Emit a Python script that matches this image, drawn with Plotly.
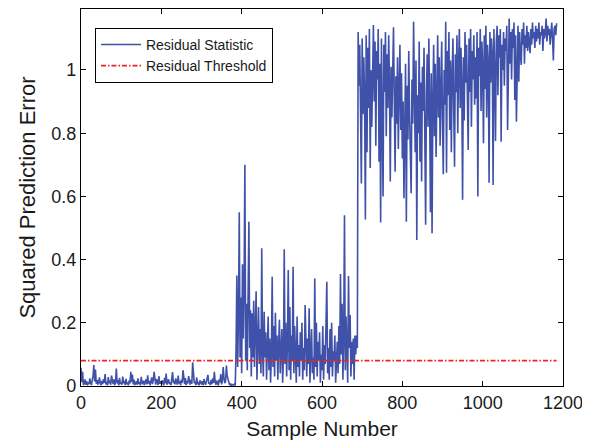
import plotly.graph_objects as go

# Sample numbers (every second sample)
sample_number = list(range(0, 1186, 2))

# Residual statistic, normal operation (samples 0..384)
spe_normal = [
    0.058, 0.012, 0.045, 0.003, 0.008, 0.021, 0.004, 0.015, 0.002, 0.011,
    0.006, 0.024, 0.009, 0.003, 0.018, 0.031, 0.066, 0.014, 0.052, 0.007,
    0.019, 0.004, 0.012, 0.027, 0.008, 0.003, 0.016, 0.006, 0.022, 0.010,
    0.038, 0.005, 0.013, 0.002, 0.028, 0.009, 0.017, 0.004, 0.033, 0.011,
    0.006, 0.021, 0.003, 0.014, 0.055, 0.008, 0.019, 0.002, 0.026, 0.007,
    0.012, 0.004, 0.030, 0.009, 0.016, 0.003, 0.023, 0.006, 0.011, 0.002,
    0.018, 0.008, 0.045, 0.013, 0.036, 0.005, 0.020, 0.003, 0.009, 0.015,
    0.004, 0.024, 0.007, 0.012, 0.002, 0.029, 0.010, 0.006, 0.017, 0.003,
    0.013, 0.021, 0.005, 0.034, 0.008, 0.016, 0.002, 0.011, 0.027, 0.006,
    0.019, 0.045, 0.009, 0.004, 0.022, 0.012, 0.003, 0.031, 0.007, 0.015,
    0.005, 0.018, 0.010, 0.002, 0.026, 0.008, 0.039, 0.004, 0.014, 0.021,
    0.006, 0.011, 0.003, 0.028, 0.044, 0.009, 0.017, 0.005, 0.024, 0.012,
    0.004, 0.033, 0.008, 0.015, 0.002, 0.020, 0.010, 0.050, 0.013, 0.006,
    0.025, 0.003, 0.016, 0.008, 0.031, 0.011, 0.004, 0.019, 0.007, 0.075,
    0.022, 0.009, 0.014, 0.003, 0.027, 0.006, 0.012, 0.002, 0.018, 0.008,
    0.005, 0.015, 0.003, 0.022, 0.009, 0.004, 0.013, 0.028, 0.035, 0.007,
    0.011, 0.003, 0.019, 0.006, 0.024, 0.010, 0.045, 0.013, 0.004, 0.017,
    0.008, 0.002, 0.021, 0.012, 0.038, 0.005, 0.016, 0.060, 0.026, 0.009,
    0.014, 0.065, 0.032, 0.018, 0.006, 0.003, 0.008, 0.002, 0.005, 0.004,
    0.003, 0.006, 0.002,
]

# Residual statistic, first fault (samples 386..688)
spe_fault1 = [
    0.11, 0.35, 0.06, 0.21, 0.55, 0.09, 0.28, 0.04, 0.385, 0.15,
    0.32, 0.70, 0.08, 0.26, 0.05, 0.31, 0.52, 0.12, 0.24, 0.03,
    0.23, 0.09, 0.27, 0.06, 0.19, 0.30, 0.02, 0.14, 0.25, 0.07,
    0.18, 0.04, 0.436, 0.11, 0.03, 0.235, 0.09, 0.17, 0.02, 0.12,
    0.22, 0.05, 0.15, 0.01, 0.10, 0.346, 0.06, 0.19, 0.03, 0.232,
    0.08, 0.16, 0.02, 0.13, 0.21, 0.04, 0.11, 0.18, 0.01, 0.09,
    0.433, 0.07, 0.20, 0.03, 0.14, 0.367, 0.05, 0.25, 0.02, 0.16,
    0.08, 0.377, 0.04, 0.19, 0.10, 0.01, 0.22, 0.06, 0.13, 0.03,
    0.17, 0.08, 0.20, 0.02, 0.12, 0.05, 0.256, 0.09, 0.03, 0.15,
    0.07, 0.246, 0.01, 0.11, 0.18, 0.04, 0.09, 0.02, 0.34, 0.06,
    0.20, 0.03, 0.14, 0.08, 0.17, 0.01, 0.10, 0.05, 0.19, 0.02,
    0.13, 0.07, 0.21, 0.33, 0.04, 0.12, 0.02, 0.18, 0.06, 0.20,
    0.03, 0.11, 0.08, 0.16, 0.01, 0.09, 0.14, 0.04, 0.19, 0.07,
    0.354, 0.10, 0.26, 0.02, 0.15, 0.54, 0.05, 0.22, 0.09, 0.01,
    0.348, 0.12, 0.225, 0.03, 0.14, 0.07, 0.15, 0.02, 0.16, 0.10,
    0.16, 0.12,
]

# Residual statistic, second fault (samples 690..1184)
spe_fault2 = [
    1.12, 0.95, 1.08, 0.78, 0.641, 1.10, 0.86, 1.04, 0.92, 0.527,
    1.11, 0.74, 1.07, 0.88, 1.13, 0.69, 1.00, 0.82, 1.12, 1.142,
    0.90, 1.09, 0.76, 1.06, 0.97, 1.13, 0.71, 1.02, 0.517, 1.10,
    0.84, 0.60, 1.08, 0.93, 1.12, 0.79, 1.05, 0.88, 1.11, 0.96,
    0.647, 1.01, 0.85, 1.07, 1.135, 0.91, 0.678, 0.98, 0.83, 1.04,
    0.75, 0.94, 1.08, 0.81, 0.99, 0.72, 0.90, 0.594, 0.87, 1.02,
    0.52, 0.95, 0.78, 1.06, 0.86, 0.69, 0.61, 0.97, 0.83, 1.153,
    0.89, 0.74, 1.03, 0.462, 0.92, 0.80, 1.09, 0.71, 0.96, 0.647,
    1.01, 0.87, 1.07, 0.77, 0.51, 0.93, 1.05, 0.82, 1.10, 0.88,
    0.55, 0.99, 0.483, 0.90, 1.08, 0.79, 1.02, 0.725, 0.94, 1.11,
    0.85, 1.04, 0.76, 0.97, 1.09, 0.83, 0.67, 1.00, 0.89, 1.153,
    0.675, 1.06, 0.92, 1.12, 0.81, 1.03, 0.74, 0.98, 1.10, 0.87,
    0.694, 1.05, 0.93, 1.11, 0.80, 1.02, 1.13, 0.88, 1.07, 0.95,
    0.589, 1.04, 0.84, 1.12, 0.96, 1.08, 0.86, 0.747, 1.10, 0.93,
    1.13, 0.82, 1.06, 0.97, 1.11, 0.89, 1.04, 0.91, 1.12, 0.60,
    1.07, 0.98, 1.13, 0.87, 1.09, 1.01, 0.768, 1.11, 0.94, 1.14,
    0.85, 1.08, 1.03, 0.643, 1.12, 0.96, 1.10, 1.05, 0.636, 1.13,
    0.99, 0.775, 1.09, 1.14, 0.92, 1.11, 1.04, 1.13, 0.773, 1.08,
    1.00, 1.12, 0.95, 1.10, 1.06, 1.14, 0.81, 1.09, 1.163, 1.02,
    1.12, 0.97, 1.13, 1.07, 1.15, 0.905, 1.11, 0.836, 1.08, 1.14,
    0.963, 1.12, 1.05, 1.016, 1.13, 1.08, 1.15, 1.02, 1.11, 1.07,
    1.14, 1.06, 1.12, 1.09, 1.053, 1.13, 1.08, 1.15, 1.10, 1.12,
    1.07, 1.14, 1.09, 1.13, 1.10, 1.15, 1.08, 1.12, 1.11, 1.14,
    1.06, 1.13, 1.10, 1.12, 1.163, 1.09, 1.14, 1.11, 1.13, 1.08,
    1.12, 1.15, 1.10, 1.03, 1.13, 1.14, 1.11, 1.148,
]

residual_statistic = spe_normal + spe_fault1 + spe_fault2

threshold_value = 0.08
threshold_x = [0, 1184]

x_tickvals = [0, 200, 400, 600, 800, 1000, 1200]
y_tickvals = [0, 0.2, 0.4, 0.6, 0.8, 1]
y_ticktext = ["0", "0.2", "0.4", "0.6", "0.8", "1"]

FONT = "Liberation Sans, Arial, Helvetica, sans-serif"
TEXT = "#1a1a1a"

fig = go.Figure()
fig.add_trace(go.Scatter(
    x=sample_number, y=residual_statistic, mode="lines",
    name="Residual Statistic",
    line=dict(color="#3f51a9", width=1.6),
))
fig.add_trace(go.Scatter(
    x=threshold_x, y=[threshold_value] * len(threshold_x), mode="lines",
    name="Residual Threshold",
    line=dict(color="#e8261f", width=1.8, dash="5px,2px,1.5px,2px"),
))

axis_common = dict(
    showline=True, linecolor="black", linewidth=1.2, mirror="ticks",
    ticks="inside", ticklen=5, tickcolor="black", tickwidth=1,
    showgrid=False, zeroline=False, automargin=False,
    tickfont=dict(family=FONT, size=18, color=TEXT),
)

# The page body adds an 8px offset, so the figure is laid out 8px smaller.
fig.update_layout(
    width=582, height=436,
    margin=dict(l=73, r=27, t=1, b=58),
    paper_bgcolor="white", plot_bgcolor="white",
    font=dict(family=FONT, color=TEXT),
    showlegend=True,
    legend=dict(
        x=0.029, y=0.95, xanchor="left", yanchor="top",
        bgcolor="white", bordercolor="black", borderwidth=1,
        font=dict(family=FONT, size=14, color=TEXT),
        tracegroupgap=0, itemwidth=40,
    ),
    xaxis=dict(
        range=[0, 1200], tickvals=x_tickvals,
        title=dict(text="Sample Number", font=dict(family=FONT, size=21, color=TEXT), standoff=9),
        **axis_common,
    ),
    yaxis=dict(
        range=[0, 1.193], tickvals=y_tickvals, ticktext=y_ticktext,
        title=dict(text="Squared Prediction Error", font=dict(family=FONT, size=22, color=TEXT), standoff=9),
        **axis_common,
    ),
)

fig.write_html("out.html")
